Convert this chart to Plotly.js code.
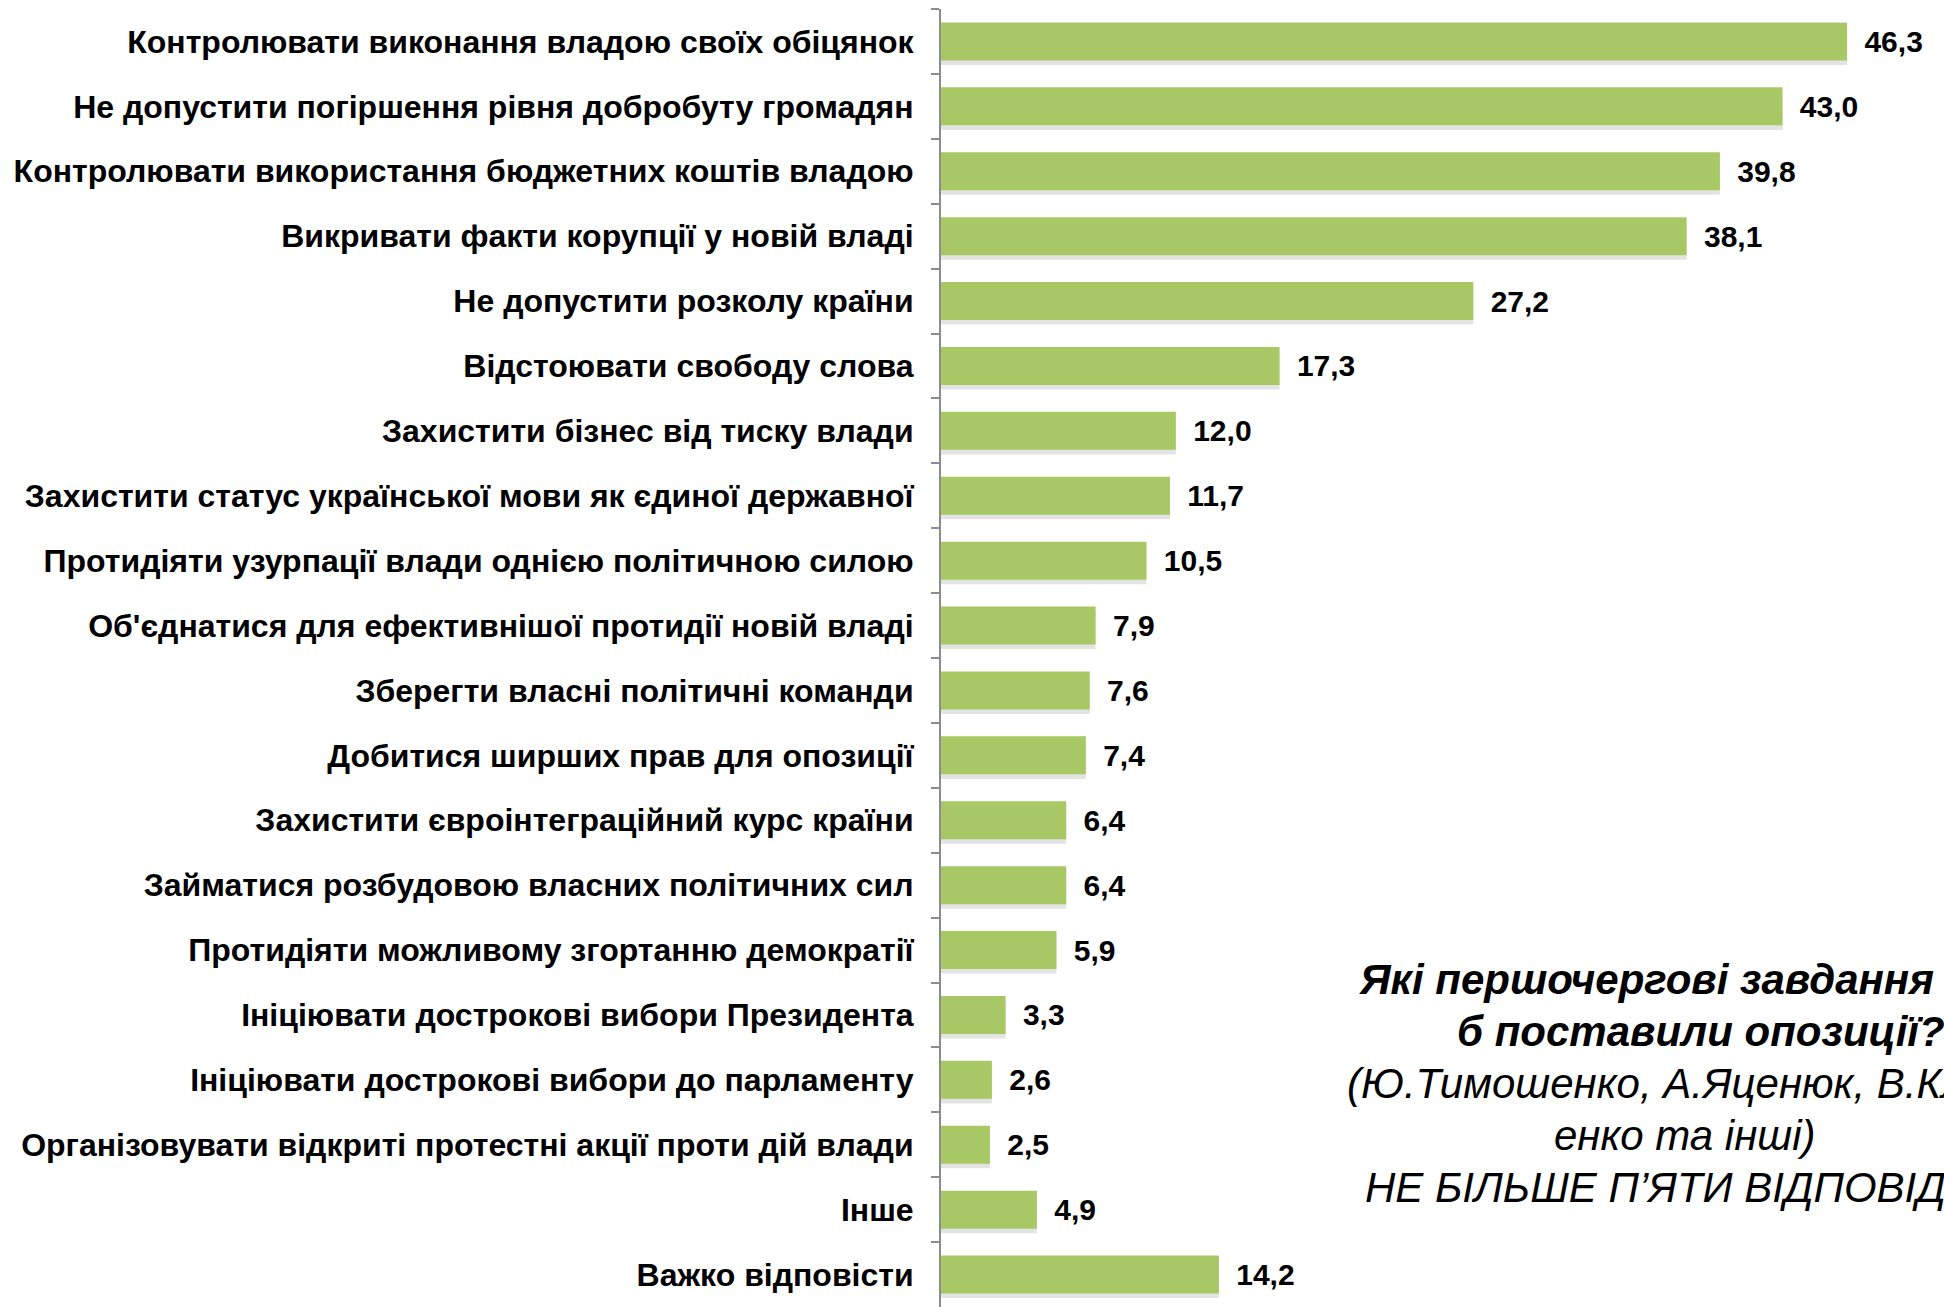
<!DOCTYPE html>
<html>
<head>
<meta charset="utf-8">
<script src="https://cdn.plot.ly/plotly-3.0.1.min.js"></script>
<style>
  html, body { margin: 0; padding: 0; background: #ffffff; overflow: hidden; }
  #chart { width: 1944px; height: 1307px; }
</style>
</head>
<body>
<div id="chart"></div>
<script>
// ---- data ----
const categories = [
  "Контролювати виконання владою своїх обіцянок",
  "Не допустити погіршення рівня добробуту громадян",
  "Контролювати використання бюджетних коштів владою",
  "Викривати факти корупції у новій владі",
  "Не допустити розколу країни",
  "Відстоювати свободу слова",
  "Захистити бізнес від тиску влади",
  "Захистити статус української мови як єдиної державної",
  "Протидіяти узурпації влади однією політичною силою",
  "Об'єднатися для ефективнішої протидії новій владі",
  "Зберегти власні політичні команди",
  "Добитися ширших прав для опозиції",
  "Захистити євроінтеграційний курс країни",
  "Займатися розбудовою власних політичних сил",
  "Протидіяти можливому згортанню демократії",
  "Ініціювати дострокові вибори Президента",
  "Ініціювати дострокові вибори до парламенту",
  "Організовувати відкриті протестні акції проти дій влади",
  "Інше",
  "Важко відповісти"
];
const values = [46.3, 43.0, 39.8, 38.1, 27.2, 17.3, 12.0, 11.7, 10.5, 7.9, 7.6, 7.4, 6.4, 6.4, 5.9, 3.3, 2.6, 2.5, 4.9, 14.2];
const valueLabels = ["46,3", "43,0", "39,8", "38,1", "27,2", "17,3", "12,0", "11,7", "10,5", "7,9", "7,6", "7,4", "6,4", "6,4", "5,9", "3,3", "2,6", "2,5", "4,9", "14,2"];

const questionLines = [
  "Які першочергові завдання Ви",
  "б поставили опозиції?",
  "(Ю.Тимошенко, А.Яценюк, В.Кличко, П.Порош",
  "енко та інші)",
  "НЕ БІЛЬШЕ П’ЯТИ ВІДПОВІДЕЙ"
];
const questionBold = [true, true, false, false, false];

// ---- layout constants ----
const W = 1944, H = 1307;
const M = { l: 941, r: 0, t: 9, b: 0 };
const plotW = W - M.l - M.r, plotH = H - M.t - M.b;
const pxPerUnit = 19.57;
const xMax = plotW / pxPerUnit;
const barW = 0.585;
const FONT = "Liberation Sans, Arial, sans-serif";
const GREEN = "#A8C866";

// positions of the question text lines (left x, centre y) in page pixels
const qLeft = [1357, 1455, 1345, 1552, 1363];
const qMid  = [979, 1031, 1083, 1135, 1187];

const shadow = {
  type: "bar", orientation: "h",
  x: values, y: categories,
  width: barW, offset: -barW / 2 + 0.07,
  marker: { color: "rgba(0,0,0,0.11)", line: { width: 0 } },
  hoverinfo: "skip", showlegend: false
};

const bars = {
  type: "bar", orientation: "h",
  x: values, y: categories,
  width: barW, offset: -barW / 2,
  marker: { color: GREEN, line: { width: 0 } },
  text: valueLabels.map(s => "\u00a0\u2009" + s),
  textposition: "outside",
  constraintext: "none",
  cliponaxis: false,
  textfont: { family: FONT, size: 30, color: "#000000", weight: "bold" },
  hoverinfo: "skip", showlegend: false
};

const annotations = questionLines.map((t, i) => ({
  xref: "paper", yref: "paper",
  x: (qLeft[i] - M.l) / plotW,
  y: 1 - (qMid[i] - M.t) / plotH,
  xanchor: "left", yanchor: "middle",
  text: t, showarrow: false,
  font: { family: FONT, size: 42, color: "#000000",
          style: "italic", weight: questionBold[i] ? "bold" : "normal" }
}));

const layout = {
  width: W, height: H,
  margin: M,
  paper_bgcolor: "#ffffff", plot_bgcolor: "#ffffff",
  barmode: "overlay",
  showlegend: false,
  xaxis: {
    range: [0, xMax], visible: false, fixedrange: true
  },
  yaxis: {
    type: "category",
    autorange: "reversed",
    showline: true, linecolor: "#8c8c8c", linewidth: 2,
    ticks: "outside", ticklen: 8, tickwidth: 2, tickcolor: "#8c8c8c",
    tickson: "boundaries",
    showgrid: false, zeroline: false,
    ticklabelstandoff: 19,
    tickfont: { family: FONT, size: 32, color: "#000000", weight: "bold" },
    fixedrange: true
  },
  annotations: annotations
};

Plotly.newPlot("chart", [shadow, bars], layout, { displayModeBar: false, staticPlot: true });
</script>
</body>
</html>
